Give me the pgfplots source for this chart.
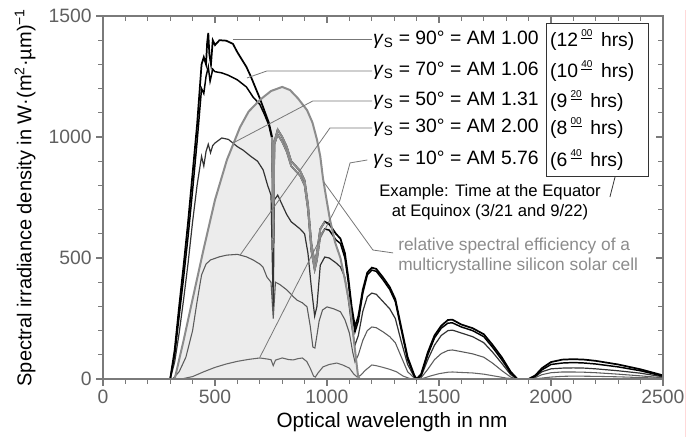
\documentclass[border=0pt]{standalone}
\usepackage{pgfplots}
\usepackage{pgfplotstable}
\pgfplotsset{compat=1.18}
\usepackage{fontspec}
\setmainfont{Liberation Sans}
\definecolor{axisgray}{HTML}{7A7A7A}
\definecolor{ticklab}{HTML}{606060}
\definecolor{fillgray}{HTML}{ECECEC}
\definecolor{effgray}{HTML}{8C8C8C}
\definecolor{leadgray}{HTML}{777777}
\definecolor{cA}{HTML}{000000}
\definecolor{cC}{HTML}{333333}
\definecolor{cD}{HTML}{5A5A5A}
\definecolor{cE}{HTML}{666666}
\newcommand{\hsup}[1]{\raisebox{0.55em}{\fontsize{7.5}{8}\selectfont\underline{#1}}}

\pgfplotstableread{
x y
300 0
320 120
340 300
360 470
380 650
400 850
420 1050
440 1300
450 1330
460 1300
465 1390
470 1430
475 1340
482 1300
490 1400
500 1380
520 1400
550 1398
580 1385
600 1350
620 1320
640 1290
660 1250
680 1205
700 1160
720 1110
740 1060
755 1000
760 620
765 980
780 1030
800 1000
820 960
840 900
860 880
880 860
900 820
915 720
930 560
945 480
955 520
970 620
990 650
1010 640
1040 600
1060 580
1080 520
1095 420
1110 300
1125 215
1140 260
1160 370
1180 440
1200 460
1220 455
1250 420
1280 380
1305 330
1330 220
1360 90
1390 15
1400 0
1420 20
1450 110
1480 180
1510 220
1540 244
1560 245
1600 225
1650 210
1700 185
1740 140
1780 90
1820 30
1850 0
1900 0
1930 15
1960 45
2000 70
2050 80
2100 82
2150 80
2200 75
2300 60
2400 40
2500 15
}\amA

\pgfplotstableread{
x y
300 0
320 100
340 260
360 420
380 590
400 780
420 980
440 1200
450 1180
460 1250
470 1290
478 1230
490 1280
500 1270
530 1265
560 1255
600 1236
640 1207
670 1165
700 1135
720 1095
740 1050
755 990
760 580
765 970
780 1010
800 980
820 940
840 880
860 860
880 840
900 800
915 700
930 530
945 450
955 490
970 590
990 620
1010 615
1040 575
1060 560
1080 500
1095 400
1110 280
1125 195
1140 240
1160 355
1180 430
1200 450
1220 445
1250 410
1280 370
1305 320
1330 210
1360 80
1390 12
1400 0
1420 15
1450 100
1480 170
1510 210
1540 231
1560 232
1600 215
1650 200
1700 175
1740 130
1780 80
1820 25
1850 0
1900 0
1930 12
1960 38
2000 60
2050 66
2100 68
2150 66
2200 62
2300 50
2400 34
2500 12
}\amB

\pgfplotstableread{
x y
300 0
320 70
340 190
360 330
380 480
400 650
420 800
440 920
450 880
460 940
470 970
480 935
490 965
500 975
530 996
560 990
600 960
625 946
660 920
690 900
715 864
735 800
750 760
760 300
765 740
780 760
800 720
820 680
840 650
860 635
880 620
900 600
915 520
930 380
945 260
955 300
970 470
990 504
1010 500
1040 480
1060 463
1080 420
1095 330
1110 220
1125 140
1140 180
1160 280
1180 340
1200 355
1220 350
1250 320
1280 290
1305 250
1330 160
1360 60
1390 8
1400 0
1420 10
1450 80
1480 140
1510 180
1540 200
1560 202
1600 190
1650 175
1700 150
1740 110
1780 65
1820 18
1850 0
1900 0
1930 10
1960 30
2000 42
2050 45
2100 46
2150 45
2200 42
2300 34
2400 24
2500 9
}\amC

\pgfplotstableread{
x y
310 0
340 30
370 90
400 200
420 320
440 430
460 475
480 492
520 505
553 512
600 515
640 505
670 492
700 475
714 463
732 421
750 400
760 250
770 400
790 390
821 368
850 340
866 326
890 315
911 298
925 220
937 132
946 128
955 180
965 240
980 285
1000 298
1030 290
1060 278
1080 245
1100 190
1115 110
1125 70
1140 100
1160 160
1180 200
1200 215
1220 212
1250 195
1280 175
1305 150
1330 95
1360 30
1390 4
1400 0
1420 5
1450 40
1480 80
1510 105
1540 118
1560 120
1600 113
1650 104
1700 90
1740 65
1780 35
1820 8
1850 0
1900 0
1930 6
1960 18
2000 26
2050 29
2100 29
2150 28
2200 26
2300 20
2400 13
2500 5
}\amD

\pgfplotstableread{
x y
350 0
400 10
450 30
500 48
550 62
600 73
650 81
700 87
730 83
750 80
760 55
770 78
800 87
830 80
850 79
870 84
890 87
910 72
925 45
940 12
948 8
960 25
982 50
1010 60
1044 66
1070 58
1100 45
1120 20
1135 8
1150 15
1170 35
1200 58
1220 55
1250 48
1280 40
1310 30
1340 12
1370 2
1400 0
1430 3
1460 12
1500 22
1540 28
1560 29
1600 27
1650 25
1700 20
1750 12
1800 4
1850 0
1900 0
1950 3
2000 8
2050 11
2100 12
2200 11
2300 9
2400 6
2500 3
}\amE

\pgfplotstableread{
x y
320 0
360 160
400 330
450 540
500 740
553 905
612 1041
650 1105
700 1153
750 1190
800 1207
835 1194
870 1160
911 1111
935 1060
955 990
970 920
982 830
1000 730
1013 660
1036 565
1060 500
1080 410
1103 298
1120 160
1138 17
1145 0
}\eff

\begin{document}
\begin{tikzpicture}
\useasboundingbox (-77.25pt,-43.5pt) rectangle (445.5pt,284.25pt);
\begin{axis}[
  at={(0pt,0pt)}, anchor=south west,
  width=420pt, height=272.25pt, scale only axis,
  xmin=0, xmax=2500, ymin=0, ymax=1500,
  xtick={0,500,1000,1500,2000,2500},
  ytick={0,500,1000,1500},
  minor x tick num=4, minor y tick num=4,
  xtick pos=left, ytick pos=left,
  tick align=outside,
  major tick length=5pt, minor tick length=3.5pt,
  axis line style={draw=axisgray, line width=0.9pt},
  tick style={draw=axisgray, line width=0.8pt},
  tick label style={font=\fontsize{14.5}{16}\selectfont, text=ticklab},
  /pgf/number format/assume math mode=true,
  /pgf/number format/set thousands separator={},
  xlabel={Optical wavelength in nm},
  ylabel={Spectral irradiance density in W·(m\textsuperscript{2}·µm)\textsuperscript{−1}},
  xlabel style={font=\fontsize{15.5}{18}\selectfont, at={(axis description cs:0.516,-0.118)}, anchor=center},
  ylabel style={font=\fontsize{15}{18}\selectfont, at={(axis description cs:-0.139,0.5)}, anchor=center},
  clip=false,
]
\addplot[fill=fillgray, draw=none] table {\eff} \closedcycle;
\addplot[cE, line width=0.8pt] table {\amE};
\addplot[cD, line width=0.8pt] table {\amD};
\addplot[cC, line width=0.9pt] table {\amC};
\addplot[cA, line width=1.1pt] table {\amB};
\addplot[cA, line width=1.3pt] table {\amA};
\addplot[effgray, line width=1.2pt, restrict x to domain=752:1005] table {\amB};
\addplot[effgray, line width=1.4pt, restrict x to domain=752:1005] table {\amA};
\addplot[effgray, line width=1.5pt] table {\eff};
% leader lines
\draw[leadgray, line width=0.8pt] (axis cs:580,1401) -- (axis cs:1201,1401);
\draw[leadgray, line width=0.6pt] (axis cs:643,1244) -- (axis cs:732,1273) -- (axis cs:1201,1273);
\draw[leadgray, line width=0.6pt] (axis cs:580,975) -- (axis cs:937,1149) -- (axis cs:1201,1149);
\draw[leadgray, line width=0.6pt] (axis cs:612,512) -- (axis cs:1013,1037) -- (axis cs:1201,1037);
\draw[leadgray, line width=0.6pt] (axis cs:701,91) -- (axis cs:1058,740) -- (axis cs:1103,893) -- (axis cs:1180,905);
\draw[leadgray, line width=0.6pt] (axis cs:985,815) -- (axis cs:1205,533) -- (axis cs:1295,521);
% box
\draw[black!80, line width=0.7pt] (axis cs:1978,835) rectangle (axis cs:2433,1471);
\draw[black!80, line width=0.6pt] (axis cs:2286,835) -- (axis cs:2263,752);
% texts
\begin{scope}[every node/.style={font=\fontsize{14.5}{17}\selectfont, inner sep=0pt, anchor=west}]
\node at (axis cs:1205,1401) {\textit{γ}\textsubscript{S} = 90° = AM 1.00};
\node at (axis cs:1205,1273) {\textit{γ}\textsubscript{S} = 70° = AM 1.06};
\node at (axis cs:1205,1149) {\textit{γ}\textsubscript{S} = 50° = AM 1.31};
\node at (axis cs:1205,1037) {\textit{γ}\textsubscript{S} = 30° = AM 2.00};
\node at (axis cs:1205,905) {\textit{γ}\textsubscript{S} = 10° = AM 5.76};
\node at (axis cs:1995,1401) {(12\,\hsup{00}\, hrs)};
\node at (axis cs:1995,1273) {(10\,\hsup{40}\, hrs)};
\node at (axis cs:1995,1149) {(9\,\hsup{20}\, hrs)};
\node at (axis cs:1995,1037) {(8\,\hsup{00}\, hrs)};
\node at (axis cs:1995,905) {(6\,\hsup{40}\, hrs)};
\end{scope}
\node[font=\fontsize{12.5}{15}\selectfont, align=center, inner sep=0pt] at (axis cs:1728,731) {Example: Time at the Equator\\at Equinox (3/21 and 9/22)};
\node[font=\fontsize{13}{15}\selectfont, align=left, inner sep=0pt, anchor=west, text=effgray] at (axis cs:1317,508) {relative spectral efficiency of a\\multicrystalline silicon solar cell};
\end{axis}
\begin{axis}[
  at={(0pt,0pt)}, anchor=south west,
  width=420pt, height=272.25pt, scale only axis,
  xmin=0, xmax=2500, ymin=0, ymax=1500,
  xtick={0,500,1000,1500,2000,2500},
  ytick={0,500,1000,1500},
  minor x tick num=4, minor y tick num=4,
  xtick pos=right, ytick pos=right,
  tick align=inside,
  major tick length=5pt, minor tick length=3.5pt,
  xticklabels={}, yticklabels={},
  axis line style={draw=axisgray, line width=0.9pt},
  tick style={draw=axisgray, line width=0.8pt},
]
\end{axis}
\draw[red!15, line width=0.6pt] (436.5pt,-43.5pt) -- (436.5pt,276.75pt);
\end{tikzpicture}
\end{document}
